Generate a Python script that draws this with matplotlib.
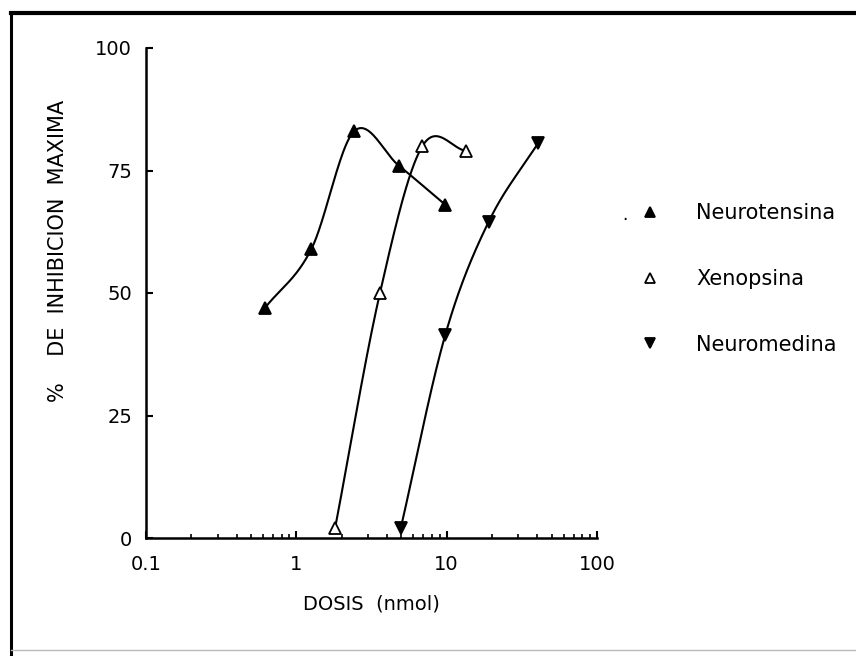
import matplotlib
matplotlib.use("Agg")
import matplotlib.pyplot as plt
import numpy as np
from matplotlib.lines import Line2D

# dose (nmol) and % of maximal inhibition for each peptide
neurotensina_dose = [0.62, 1.26, 2.42, 4.8, 9.8]
neurotensina_inhib = [47, 59, 83, 76, 68]

xenopsina_dose = [1.81, 3.6, 6.9, 13.5]
xenopsina_inhib = [2, 50, 80, 79]

neuromedina_dose = [4.95, 9.8, 19.0, 40.6]
neuromedina_inhib = [2, 41.5, 64.5, 80.6]

x_ticks = [0.1, 1, 10, 100]
x_tick_labels = ["0.1", "1", "10", "100"]
y_ticks = [0, 25, 50, 75, 100]


def smooth_curve(dose, values, n=60):
    """Cubic Hermite curve through the points, in log10(dose) space."""
    lx = np.log10(dose)
    y = np.asarray(values, dtype=float)
    m = np.empty_like(y)
    m[0] = (y[1] - y[0]) / (lx[1] - lx[0])
    m[-1] = (y[-1] - y[-2]) / (lx[-1] - lx[-2])
    m[1:-1] = (y[2:] - y[:-2]) / (lx[2:] - lx[:-2])
    xs, ys = [], []
    for i in range(len(lx) - 1):
        h = lx[i + 1] - lx[i]
        t = np.linspace(0, 1, n)
        h00 = 2 * t**3 - 3 * t**2 + 1
        h10 = t**3 - 2 * t**2 + t
        h01 = -2 * t**3 + 3 * t**2
        h11 = t**3 - t**2
        xs.append(lx[i] + t * h)
        ys.append(h00 * y[i] + h10 * h * m[i] + h01 * y[i + 1] + h11 * h * m[i + 1])
    return 10 ** np.concatenate(xs), np.concatenate(ys)


plt.rcParams["font.family"] = "DejaVu Sans"

fig = plt.figure(figsize=(8.56, 6.56), dpi=100)
ax = fig.add_axes([146 / 856, 1 - 538 / 656, 451 / 856, 490 / 656])

series = [
    (neurotensina_dose, neurotensina_inhib, "^", "black", "Neurotensina"),
    (xenopsina_dose, xenopsina_inhib, "^", "white", "Xenopsina"),
    (neuromedina_dose, neuromedina_inhib, "v", "black", "Neuromedina"),
]

for dose, inhib, marker, face, name in series:
    cx, cy = smooth_curve(dose, inhib)
    ax.plot(cx, cy, color="black", lw=1.5, zorder=2)
    ax.plot(dose, inhib, linestyle="none", marker=marker, ms=9,
            markerfacecolor=face, markeredgecolor="black", mew=1.3,
            label=name, zorder=3)

ax.set_xscale("log")
ax.set_xlim(0.1, 100)
ax.set_ylim(0, 100)
ax.set_xticks(x_ticks)
ax.set_xticklabels(x_tick_labels)
ax.set_yticks(y_ticks)

for side in ["top", "right"]:
    ax.spines[side].set_visible(False)
for side in ["left", "bottom"]:
    ax.spines[side].set_linewidth(1.8)

ax.tick_params(axis="both", which="major", direction="in", length=5, width=1.5,
               labelsize=14)
ax.tick_params(axis="y", pad=10)
ax.tick_params(axis="x", pad=12)
ax.tick_params(axis="x", which="minor", direction="in", length=3, width=1.2)
ax.tick_params(axis="y", which="minor", left=False)

ax.set_xlabel("DOSIS  (nmol)", fontsize=14, labelpad=15)
ax.text(-0.195, 0.585, "%    DE  INHIBICION  MAXIMA", transform=ax.transAxes,
        rotation=90, ha="center", va="center", fontsize=15)

leg = ax.legend(loc="upper left", bbox_to_anchor=(640 / 856, 1 - 203 / 656),
                bbox_transform=fig.transFigure, frameon=False, fontsize=15,
                handlelength=1.0, handletextpad=1.7, labelspacing=2.2,
                borderpad=0, borderaxespad=0, markerscale=0.8)

fig.text(625 / 856, 1 - 215 / 656, ".", fontsize=12, ha="center", va="center")

# outer frame
fig.add_artist(Line2D([11 / 856, 11 / 856], [1 - 13 / 656, 0],
                      transform=fig.transFigure, color="black", lw=2.2))
fig.add_artist(Line2D([11 / 856, 1], [1 - 13 / 656, 1 - 13 / 656],
                      transform=fig.transFigure, color="black", lw=3))
fig.add_artist(Line2D([11 / 856, 1], [1 - 650 / 656, 1 - 650 / 656],
                      transform=fig.transFigure, color="#bbbbbb", lw=1))

fig.savefig("out.png", dpi=100)
